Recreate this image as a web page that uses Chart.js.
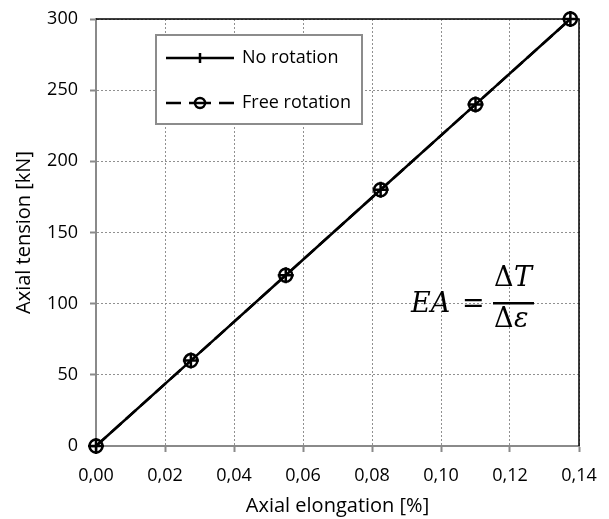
<!DOCTYPE html>
<html lang="en">
  <head>
    <meta charset="UTF-8" />
    <title>Axial tension vs elongation</title>
    <script src="https://cdn.jsdelivr.net/npm/chart.js"></script>
    <style>
      html, body { margin: 0; padding: 0; background: #fff; }
      #wrap { width: 609px; height: 519px; }
    </style>
  </head>
  <body>
    <div id="wrap"><canvas id="chart"></canvas></div>
    <script>
      // data
      const elongation = [0, 0.0275, 0.055, 0.0825, 0.11, 0.1375];
      const tensionNoRot = [0, 60, 120, 180, 240, 300];
      const tensionFreeRot = [0, 60, 120, 180, 240, 300];
      const seriesNames = ["No rotation", "Free rotation"];
      const xTicks = [0, 0.02, 0.04, 0.06, 0.08, 0.1, 0.12, 0.14];
      const yTicks = [0, 50, 100, 150, 200, 250, 300];

      const tickFont = { family: "Open Sans", size: 18 };
      const titleFont = { family: "Open Sans", size: 20 };

      const toPoints = (xs, ys) => xs.map((x, i) => ({ x: x, y: ys[i] }));

      // top/right black frame, legend box and formula
      const extras = {
        id: "extras",
        afterDraw(chart) {
          const ctx = chart.ctx;
          const a = chart.chartArea;
          ctx.save();
          ctx.strokeStyle = "#000";
          ctx.lineWidth = 1.5;
          ctx.beginPath();
          ctx.moveTo(a.left, a.top);
          ctx.lineTo(a.right, a.top);
          ctx.lineTo(a.right, a.bottom);
          ctx.stroke();

          // legend
          const lx = 156, ly = 35, lw = 206, lh = 89;
          ctx.fillStyle = "#fff";
          ctx.fillRect(lx, ly, lw, lh);
          ctx.strokeStyle = "#8c8c8c";
          ctx.lineWidth = 2;
          ctx.strokeRect(lx, ly, lw, lh);

          ctx.strokeStyle = "#000";
          ctx.lineWidth = 2.5;
          // no rotation: solid + cross
          let y1 = ly + 23;
          ctx.beginPath();
          ctx.moveTo(166, y1);
          ctx.lineTo(234, y1);
          ctx.stroke();
          ctx.beginPath();
          ctx.moveTo(200, y1 - 5);
          ctx.lineTo(200, y1 + 5);
          ctx.stroke();
          // free rotation: dashed + circle
          let y2 = ly + 68;
          ctx.beginPath();
          ctx.moveTo(166, y2); ctx.lineTo(181, y2);
          ctx.moveTo(219, y2); ctx.lineTo(234, y2);
          ctx.moveTo(189, y2); ctx.lineTo(211, y2);
          ctx.stroke();
          ctx.beginPath();
          ctx.arc(200, y2, 5, 0, Math.PI * 2);
          ctx.stroke();

          ctx.fillStyle = "#000";
          ctx.font = "18px 'Open Sans'";
          ctx.textBaseline = "middle";
          ctx.fillText(seriesNames[0], 242, y1);
          ctx.fillText(seriesNames[1], 242, y2);

          // formula EA = dT / d eps
          const it = "italic 27px 'DejaVu Serif'";
          const up = "27px 'DejaVu Serif'";
          ctx.textBaseline = "alphabetic";
          ctx.font = it;
          ctx.fillText("EA", 411, 312);
          ctx.font = up;
          ctx.fillText("=", 462, 312);
          ctx.fillRect(493, 302, 41, 2.5);
          ctx.fillText("Δ", 494, 286);
          ctx.font = it;
          ctx.fillText("T", 514, 286);
          ctx.font = up;
          ctx.fillText("Δ", 494, 327);
          ctx.font = it;
          ctx.fillText("ε", 514, 327);
          ctx.restore();
        },
      };

      new Chart(document.getElementById("chart"), {
        type: "scatter",
        data: {
          datasets: [
            {
              label: seriesNames[0],
              data: toPoints(elongation, tensionNoRot),
              showLine: true,
              clip: false,
              borderColor: "#000",
              backgroundColor: "#000",
              borderWidth: 2.5,
              pointStyle: "cross",
              pointRadius: 8,
              pointBorderWidth: 2.5,
            },
            {
              label: seriesNames[1],
              data: toPoints(elongation, tensionFreeRot),
              showLine: true,
              clip: false,
              borderColor: "#000",
              backgroundColor: "rgba(0,0,0,0)",
              borderWidth: 2.5,
              borderDash: [14, 6],
              pointStyle: "circle",
              pointRadius: 6.5,
              pointBorderWidth: 2.5,
            },
          ],
        },
        options: {
          responsive: true,
          maintainAspectRatio: false,
          animation: false,
          layout: { padding: { top: 19, right: 30, left: 0, bottom: 0 } },
          plugins: { legend: { display: false }, tooltip: { enabled: false } },
          scales: {
            x: {
              type: "linear",
              min: 0,
              max: 0.14,
              afterBuildTicks: (s) => { s.ticks = xTicks.map((v) => ({ value: v })); },
              afterFit: (s) => { s.height = 73; s.paddingLeft = 0; s.paddingRight = 0; },
              ticks: {
                color: "#000",
                font: tickFont,
                padding: 13,
                callback: (v) => v.toFixed(2).replace(".", ","),
              },
              grid: {
                color: "#909090",
                lineWidth: 1,
                tickLength: 6,
                tickColor: "#8a8a8a",
                tickWidth: 2,
                tickBorderDash: [],
              },
              border: { color: "#8a8a8a", width: 2, dash: [2, 2] },
              title: {
                display: true,
                text: "Axial elongation [%]",
                color: "#000",
                font: titleFont,
                padding: { top: 0, bottom: 1 },
              },
            },
            y: {
              type: "linear",
              min: 0,
              max: 300,
              afterBuildTicks: (s) => { s.ticks = yTicks.map((v) => ({ value: v })); },
              afterFit: (s) => { s.width = 96; s.paddingTop = 0; s.paddingBottom = 0; },
              ticks: { color: "#000", font: tickFont, padding: 12 },
              grid: {
                color: "#909090",
                lineWidth: 1,
                tickLength: 6,
                tickColor: "#8a8a8a",
                tickWidth: 2,
                tickBorderDash: [],
              },
              border: { color: "#8a8a8a", width: 2, dash: [2, 2] },
              title: {
                display: true,
                text: "Axial tension [kN]",
                color: "#000",
                font: titleFont,
                padding: { top: 12, bottom: 0 },
              },
            },
          },
        },
        plugins: [extras],
      });
    </script>
  </body>
</html>
